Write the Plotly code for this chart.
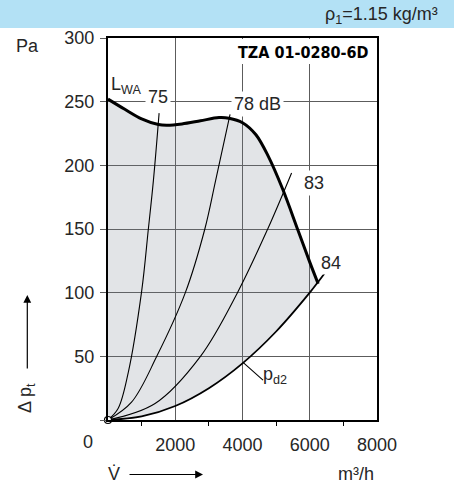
import plotly.graph_objects as go

# Fan characteristic: total pressure rise over volume flow
fan_flow = [0, 500, 1000, 1500, 1750, 2200, 2750, 3300, 3600, 4000, 4400, 4750, 5200, 5650, 6000, 6250]
fan_dp = [252, 244, 236.5, 232, 231.5, 232.5, 235, 237.5, 237, 233.5, 224, 208, 181, 149, 124, 107]

# Dynamic pressure at the outlet (p_d2)
pd2_flow = [0, 1000, 2000, 3000, 4000, 5000, 6000, 6250, 6450]
pd2_dp = [0, 2.8, 11, 25, 44.5, 69.5, 100, 108.5, 115.5]

# Sound power level lines (L_WA)
lwa_levels = ["75", "78 dB", "83"]
lwa_flow = [
    [0, 300, 600, 1000, 1200, 1350, 1520],
    [0, 700, 1450, 2300, 2880, 3200, 3630],
    [0, 1400, 2750, 3850, 4750, 5460],
]
lwa_dp = [
    [0, 9, 37, 101, 150, 188, 241],
    [0, 14, 50, 100, 150, 188, 240],
    [0, 13, 50, 100, 150, 194],
]

x_ticks = [2000, 4000, 6000, 8000]
x_minor = [1000, 3000, 5000, 7000]
y_ticks = [0, 50, 100, 150, 200, 250, 300]
y_labels = ["", "50", "100", "150", "200", "250", "300"]

FONT = "Liberation Sans, Arial, sans-serif"
TXT = "#262626"
GRID = "#5c5c5c"
FS = 18

fig = go.Figure()

# lower boundary of the operating area (p_d2 up to the end of the fan curve)
n_end = 7
fig.add_trace(go.Scatter(
    x=pd2_flow[:n_end + 1], y=pd2_dp[:n_end + 1], mode="lines",
    line=dict(width=0, shape="spline"), hoverinfo="skip", showlegend=False))

# fan curve with shaded operating area
fig.add_trace(go.Scatter(
    x=fan_flow, y=fan_dp, mode="lines", fill="tonexty",
    fillcolor="rgba(120,128,140,0.21)",
    line=dict(color="black", width=3, shape="spline", smoothing=0.9),
    showlegend=False))

# p_d2 curve
fig.add_trace(go.Scatter(
    x=pd2_flow, y=pd2_dp, mode="lines",
    line=dict(color="black", width=1.8, shape="spline"),
    showlegend=False))

# sound level lines
for fx, fy in zip(lwa_flow, lwa_dp):
    fig.add_trace(go.Scatter(
        x=fx, y=fy, mode="lines",
        line=dict(color="black", width=1.1, shape="spline"),
        showlegend=False))

# origin marker
fig.add_trace(go.Scatter(
    x=[0], y=[0], mode="markers", cliponaxis=False,
    marker=dict(size=7, color="white", line=dict(color="black", width=1.2)),
    showlegend=False))


def label(x, y, text, ref="data", **kw):
    xr, yr = ("x", "y") if ref == "data" else ("paper", "paper")
    base = dict(x=x, y=y, xref=xr, yref=yr, text=text, showarrow=False,
                font=dict(family=FONT, size=FS, color=TXT),
                xanchor="center", yanchor="middle")
    base.update(kw)
    fig.add_annotation(**base)


# curve labels
label(540, 263, "L<sub>WA</sub>")
label(lwa_flow[0][-1] - 40, 254, lwa_levels[0], bgcolor="white", borderpad=2)
label(4460, 248.5, lwa_levels[1], bgcolor="white", borderpad=2)
label(6120, 186, lwa_levels[2], bgcolor="white", borderpad=2)
label(6640, 123, "84", bgcolor="white", borderpad=1)
label(4980, 35, "p<sub>d2</sub>")

# leader line for p_d2
fig.add_shape(type="line", x0=4015, y0=45.3, x1=4610, y1=31.3,
              line=dict(color="black", width=1.1))

# type designation box
fig.add_shape(type="rect", x0=3850, x1=7955, y0=279.5, y1=299.2,
              fillcolor="white", line=dict(width=0), layer="above")
label(7800, 289, "<b>TZA 01-0280-6D</b>", xanchor="right",
      font=dict(family="DejaVu Sans Condensed, Liberation Sans Narrow, Liberation Sans",
                size=16, color="black"))

# axis captions (outside the plotting area)
label(-0.2974, 0.979, "Pa", ref="paper")
label(-0.0743, -0.0563, "0", ref="paper")
label(0.0223, -0.1414, "V\u0307", ref="paper")
label(0.922, -0.1414, "m³/h", ref="paper")
label(-0.3011, 0.0576, "Δ p<sub>t</sub>", ref="paper", textangle=-90)

# arrows next to the axis captions
fig.add_annotation(x=0.3532, y=-0.1427, xref="paper", yref="paper", ax=-75, ay=0,
                   text="", showarrow=True, arrowhead=2, arrowsize=1.3,
                   arrowwidth=1.2, arrowcolor="black")
fig.add_annotation(x=-0.3, y=0.3272, xref="paper", yref="paper", ax=0, ay=75,
                   text="", showarrow=True, arrowhead=2, arrowsize=1.3,
                   arrowwidth=1.2, arrowcolor="black")

# density banner
fig.add_shape(type="rect", xref="paper", yref="paper", x0=-0.41, x1=1.29,
              y0=1.026, y1=1.12, fillcolor="#b3e1f5", line=dict(width=0), layer="above")
label(1.234, 1.0576, "ρ<sub>1</sub>=1.15 kg/m³", ref="paper", xanchor="right")

fig.update_xaxes(
    range=[0, 8000], tickvals=x_ticks, ticks="", showgrid=True,
    gridcolor=GRID, gridwidth=1.3, zeroline=False,
    showline=True, linecolor="black", linewidth=1.5, mirror=True,
    tickfont=dict(family=FONT, size=FS, color=TXT), ticklabelstandoff=8,
    minor=dict(tickvals=x_minor, ticks="outside", ticklen=4,
               tickcolor="black", tickwidth=1.2, showgrid=False),
)
fig.update_yaxes(
    range=[0, 300], tickvals=y_ticks, ticktext=y_labels,
    ticks="outside", ticklen=6, tickcolor=GRID, tickwidth=1.3,
    showgrid=True, gridcolor=GRID, gridwidth=1.3, zeroline=False,
    showline=True, linecolor="black", linewidth=2, mirror=True,
    tickfont=dict(family=FONT, size=FS, color=TXT), ticklabelstandoff=2,
)

fig.update_layout(
    width=454, height=491,
    margin=dict(l=108, r=77, t=38, b=71),
    plot_bgcolor="white", paper_bgcolor="white",
    showlegend=False,
)

fig.write_html("out.html")
